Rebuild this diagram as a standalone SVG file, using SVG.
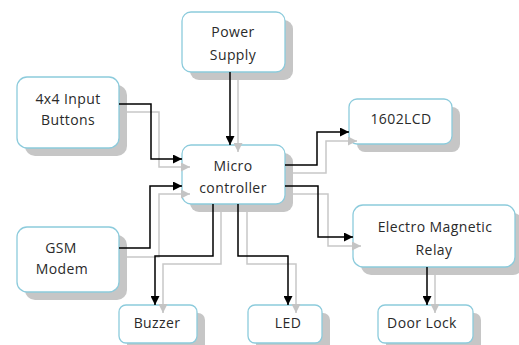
<svg xmlns="http://www.w3.org/2000/svg" width="519" height="345" viewBox="0 0 519 345">
<defs>
<marker id="ab" viewBox="0 0 10 10" refX="10" refY="5" markerWidth="9" markerHeight="9" markerUnits="userSpaceOnUse" orient="auto"><path d="M0,0 L10,5 L0,10 z" fill="#000"/></marker>
<marker id="ag" viewBox="0 0 10 10" refX="10" refY="5" markerWidth="9" markerHeight="9" markerUnits="userSpaceOnUse" orient="auto"><path d="M0,0 L10,5 L0,10 z" fill="#c4c4c4"/></marker>
</defs>
<style>
.sh{fill:#c6c6c6}
.bx{fill:#fff;stroke:#8ccbdc;stroke-width:1.3}
.t{font-family:"Open Sans","Liberation Sans",sans-serif;font-size:14px;letter-spacing:0.4px;fill:#2a2a2a;text-anchor:middle}
.cb{fill:none;stroke:#000;stroke-width:1.5;marker-end:url(#ab)}
.cg{fill:none;stroke:#c8c8c8;stroke-width:1.5;marker-end:url(#ag)}
</style>
<rect width="519" height="345" fill="#fff"/>
<g id="power">
<rect class="sh" x="190" y="20" width="103" height="60" rx="9"/>
<rect class="bx" x="182" y="12" width="103" height="60" rx="9"/>
<text class="t" x="233" y="37">Power</text>
<text class="t" x="233" y="60">Supply</text>
</g>
<g id="keypad">
<rect class="sh" x="25" y="85" width="102" height="71" rx="10"/>
<rect class="bx" x="17" y="77" width="102" height="71" rx="10"/>
<text class="t" x="68" y="104">4x4 Input</text>
<text class="t" x="68" y="125">Buttons</text>
</g>
<g id="micro">
<rect class="sh" x="190" y="153" width="103" height="59" rx="9"/>
<rect class="bx" x="182" y="145" width="103" height="59" rx="9"/>
<text class="t" x="233" y="171">Micro</text>
<text class="t" x="233" y="193">controller</text>
</g>
<g id="lcd">
<rect class="sh" x="357" y="107" width="103" height="45" rx="8"/>
<rect class="bx" x="349" y="99" width="103" height="45" rx="8"/>
<text class="t" x="401" y="124">1602LCD</text>
</g>
<g id="gsm">
<rect class="sh" x="25" y="235" width="102" height="65" rx="10"/>
<rect class="bx" x="17" y="227" width="102" height="65" rx="10"/>
<text class="t" x="61" y="253">GSM</text>
<text class="t" x="62" y="274">Modem</text>
</g>
<g id="relay">
<rect class="sh" x="361" y="213" width="162" height="62" rx="10"/>
<rect class="bx" x="353" y="205" width="162" height="62" rx="10"/>
<text class="t" x="435" y="232">Electro Magnetic</text>
<text class="t" x="434" y="255">Relay</text>
</g>
<g id="buzzer">
<rect class="sh" x="127" y="313" width="78" height="38" rx="7"/>
<rect class="bx" x="119" y="305" width="78" height="38" rx="7"/>
<text class="t" x="157" y="328">Buzzer</text>
</g>
<g id="led">
<rect class="sh" x="256" y="313" width="74" height="38" rx="7"/>
<rect class="bx" x="248" y="305" width="74" height="38" rx="7"/>
<text class="t" x="288" y="328">LED</text>
</g>
<g id="doorlock">
<rect class="sh" x="386" y="313" width="95" height="38" rx="7"/>
<rect class="bx" x="378" y="305" width="95" height="38" rx="7"/>
<text class="t" x="422" y="328">Door Lock</text>
</g>
<g id="connectors">
<path class="cg" d="M238,80 V152"/>
<path class="cb" d="M230,72 V145"/>
<path class="cg" d="M127,112 H159 V167 H190"/>
<path class="cb" d="M119,104 H151 V159 H182"/>
<path class="cg" d="M127,257 H159 V194 H190"/>
<path class="cb" d="M119,248 H150 V186 H182"/>
<path class="cg" d="M221,212 V264 H163 V313"/>
<path class="cb" d="M213,204 V256 H155 V305"/>
<path class="cg" d="M247,212 V264 H296 V313"/>
<path class="cb" d="M238,204 V256 H288 V305"/>
<path class="cg" d="M293,173 H326 V141 H357"/>
<path class="cb" d="M285,165 H317 V132 H349"/>
<path class="cg" d="M293,194 H328 V246 H361"/>
<path class="cb" d="M285,186 H318 V237 H353"/>
<path class="cg" d="M435,275 V313"/>
<path class="cb" d="M427,267 V305"/>
</g>
</svg>
